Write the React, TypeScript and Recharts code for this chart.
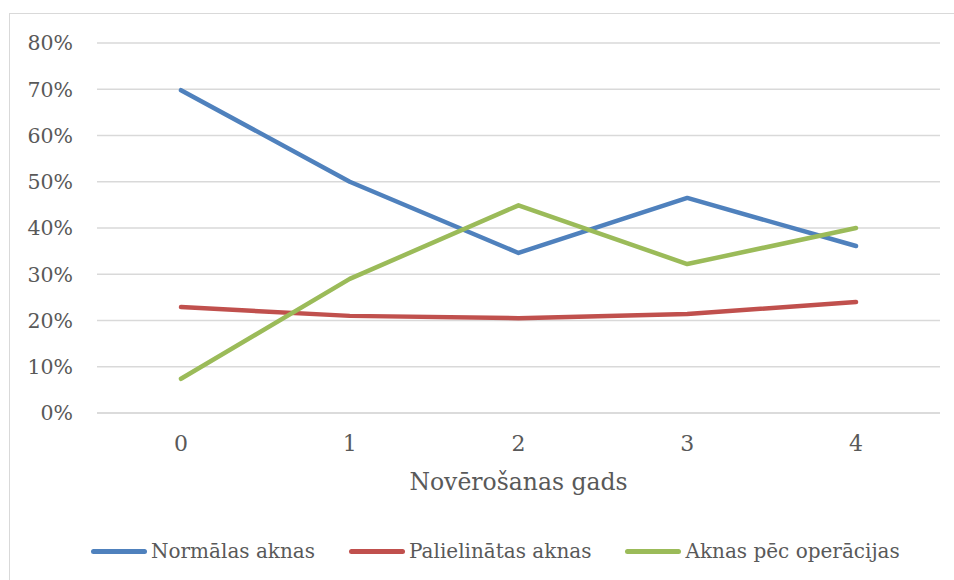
import { LineChart, Line, XAxis, YAxis, CartesianGrid, Legend } from 'recharts';

const years = ['0', '1', '2', '3', '4'];
const normal = [0.698, 0.5, 0.346, 0.465, 0.361];
const enlarged = [0.229, 0.21, 0.205, 0.214, 0.24];
const afterSurgery = [0.074, 0.29, 0.449, 0.322, 0.4];
const yTicks = [0, 0.1, 0.2, 0.3, 0.4, 0.5, 0.6, 0.7, 0.8];

const series = [
  { key: 'normal', name: 'Normālas aknas', color: '#4f81bd' },
  { key: 'enlarged', name: 'Palielinātas aknas', color: '#c0504d' },
  { key: 'afterSurgery', name: 'Aknas pēc operācijas', color: '#9bbb59' },
];

const data = years.map((year, i) => ({
  year,
  normal: normal[i],
  enlarged: enlarged[i],
  afterSurgery: afterSurgery[i],
}));

const FONT = '"DejaVu Serif", serif';
const TEXT = '#595959';

function LegendContent() {
  return (
    <div
      style={{
        display: 'flex',
        alignItems: 'center',
        height: 30,
        paddingLeft: 91,
        fontFamily: FONT,
        fontSize: 20,
        color: TEXT,
      }}
    >
      {series.map((s, i) => (
        <div key={s.key} style={{ display: 'flex', alignItems: 'center', marginLeft: i === 0 ? 0 : 34 }}>
          <span
            style={{
              display: 'inline-block',
              width: 56,
              height: 5,
              borderRadius: 3,
              background: s.color,
              marginRight: 4,
            }}
          />
          <span>{s.name}</span>
        </div>
      ))}
    </div>
  );
}

export default function App() {
  return (
    <div style={{ position: 'absolute', left: 0, top: 0, width: 954, height: 580, background: '#fff', overflow: 'hidden' }}>
      <div
        style={{
          position: 'absolute',
          left: 9,
          top: 13,
          width: 960,
          height: 600,
          border: '1px solid #d9d9d9',
          boxSizing: 'border-box',
        }}
      />
      <LineChart
        width={954}
        height={580}
        data={data}
        margin={{ top: 43, right: 14, left: 0, bottom: 55 }}
        style={{ position: 'absolute', left: 0, top: 0 }}
      >
        <CartesianGrid vertical={false} stroke="#d9d9d9" strokeWidth={1.3} />
        <XAxis
          dataKey="year"
          height={82}
          padding={{ left: 84, right: 84 }}
          axisLine={{ stroke: '#d9d9d9', strokeWidth: 1.3 }}
          tickLine={false}
          tickSize={0}
          tickMargin={22}
          tick={{ fill: TEXT, fontSize: 22, fontFamily: FONT }}
          label={{
            value: 'Novērošanas gads',
            position: 'insideBottom',
            offset: 5,
            fill: TEXT,
            fontSize: 23.5,
            fontFamily: FONT,
          }}
        />
        <YAxis
          width={97}
          domain={[0, 0.8]}
          ticks={yTicks}
          axisLine={false}
          tickLine={false}
          tickSize={0}
          tickMargin={24}
          tickFormatter={(v: number) => `${Math.round(v * 100)}%`}
          tick={{ fill: TEXT, fontSize: 20.5, fontFamily: FONT }}
        />
        <Legend
          verticalAlign="bottom"
          content={<LegendContent />}
          wrapperStyle={{ top: 536, left: 0, width: 954 }}
        />
        {series.map((s) => (
          <Line
            key={s.key}
            type="linear"
            dataKey={s.key}
            name={s.name}
            stroke={s.color}
            strokeWidth={4.5}
            strokeLinecap="round"
            strokeLinejoin="round"
            dot={false}
            activeDot={false}
            isAnimationActive={false}
          />
        ))}
      </LineChart>
    </div>
  );
}
